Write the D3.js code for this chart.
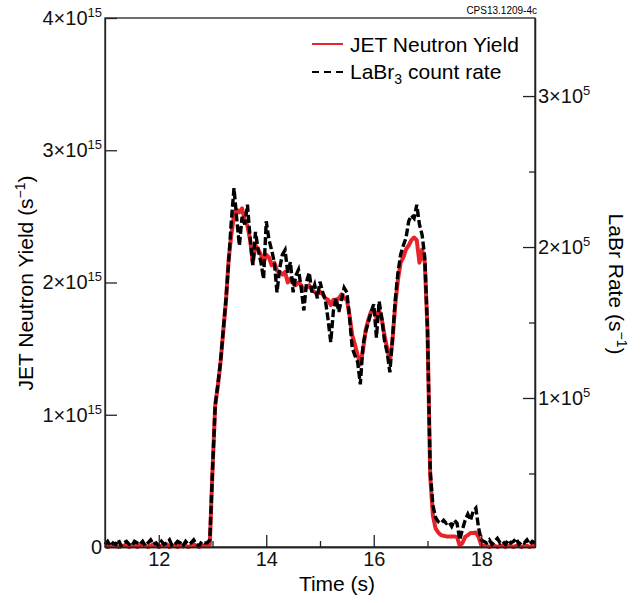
<!DOCTYPE html>
<meta charset="utf-8">
<style>

    body { margin: 0; background: #fff; }

    svg { font-family: "Liberation Sans", Arial, sans-serif; }

    .axis path, .axis line {
        stroke: #222;
        stroke-width: 1.3;
    }

    .axis text {
        font-family: "Liberation Sans", Arial, sans-serif;
        font-size: 20px;
        fill: #111;
    }

</style>
<svg width="641" height="603"></svg>
<script src="https://cdn.jsdelivr.net/npm/d3@7/dist/d3.min.js"></script>
<script>

    // sampling of both traces: every 0.05 s starting at 11 s
    var timeStart = 11, timeStep = 0.05;

    // JET neutron yield, units of 1e15 s^-1
    var neutronYield = [
        0.01, 0.00, 0.01, 0.02, 0.01, 0.00, 0.01, 0.01, 0.02, 0.00,
        0.01, 0.01, 0.00, 0.02, 0.01, 0.01, 0.00, 0.01, 0.02, 0.01,
        0.00, 0.01, 0.01, 0.02, 0.00, 0.01, 0.01, 0.00, 0.02, 0.01,
        0.01, 0.00, 0.01, 0.02, 0.01, 0.00, 0.01, 0.01, 0.01, 0.02,
        0.58, 1.07, 1.22, 1.40, 1.63, 1.86, 2.17, 2.36, 2.51, 2.55,
        2.53, 2.56, 2.47, 2.43, 2.32, 2.15, 2.28, 2.25, 2.21, 2.15,
        2.21, 2.19, 2.13, 2.15, 2.09, 2.08, 2.06, 2.08, 2.00, 2.03,
        2.00, 1.98, 2.00, 1.98, 1.94, 1.96, 1.98, 1.94, 1.93, 1.91,
        1.93, 1.91, 1.88, 1.87, 1.83, 1.87, 1.87, 1.88, 1.91, 1.88,
        1.87, 1.75, 1.60, 1.53, 1.45, 1.38, 1.49, 1.64, 1.72, 1.78,
        1.79, 1.73, 1.79, 1.72, 1.60, 1.50, 1.40, 1.57, 1.83, 2.02,
        2.15, 2.19, 2.25, 2.28, 2.32, 2.34, 2.32, 2.15, 2.25, 2.15,
        1.64, 0.54, 0.24, 0.14, 0.11, 0.09, 0.085, 0.08, 0.08, 0.08,
        0.08, 0.075, 0.01, 0.03, 0.076, 0.09, 0.106, 0.106, 0.11, 0.076,
        0.015, 0.01, 0.01, 0.00, 0.01, 0.01, 0.00, 0.01, 0.01, 0.00,
        0.01, 0.01, 0.00, 0.01, 0.01, 0.00, 0.01, 0.01, 0.00, 0.01,
        0.01
    ];

    // LaBr3 count rate, units of 1e5 s^-1
    var labrRate = [
        0.03, 0.05, 0.02, 0.04, 0.03, 0.06, 0.02, 0.04, 0.05, 0.03,
        0.02, 0.05, 0.04, 0.03, 0.05, 0.02, 0.04, 0.06, 0.03, 0.04,
        0.02, 0.05, 0.03, 0.04, 0.06, 0.02, 0.03, 0.05, 0.04, 0.02,
        0.05, 0.03, 0.04, 0.06, 0.03, 0.02, 0.05, 0.04, 0.04, 0.06,
        0.52, 0.95, 1.09, 1.24, 1.45, 1.65, 1.90, 2.17, 2.39, 2.19,
        2.01, 2.20, 2.15, 2.28, 2.06, 1.88, 2.10, 1.98, 1.90, 1.79,
        2.17, 2.05, 1.98, 1.90, 1.70, 1.86, 1.95, 1.98, 1.83, 1.90,
        1.70, 1.81, 1.85, 1.73, 1.58, 1.77, 1.83, 1.70, 1.75, 1.66,
        1.77, 1.70, 1.65, 1.52, 1.37, 1.58, 1.66, 1.57, 1.65, 1.73,
        1.70, 1.53, 1.33, 1.28, 1.24, 1.09, 1.35, 1.44, 1.50, 1.57,
        1.62, 1.40, 1.64, 1.53, 1.38, 1.30, 1.17, 1.40, 1.65, 1.83,
        1.95, 2.01, 2.06, 2.17, 2.21, 2.19, 2.28, 2.15, 2.08, 1.93,
        1.45, 0.52, 0.29, 0.21, 0.18, 0.17, 0.19, 0.17, 0.18, 0.15,
        0.19, 0.17, 0.06, 0.13, 0.19, 0.23, 0.19, 0.25, 0.27, 0.14,
        0.06, 0.05, 0.04, 0.06, 0.03, 0.05, 0.07, 0.04, 0.05, 0.03,
        0.06, 0.04, 0.05, 0.07, 0.03, 0.05, 0.04, 0.06, 0.03, 0.05,
        0.04
    ];

    var timeTicks = [12, 14, 16, 18],
        timeMinor = [13, 15, 17],
        yieldTicks = [0, 1, 2, 3, 4],
        rateTicks = [1, 2, 3],
        rateMinor = [0.5, 1.5, 2.5];

    var svg = d3.select("svg"),
        margin = {top: 18, right: 106, bottom: 56, left: 105},
        width = +svg.attr("width") - margin.left - margin.right,
        height = +svg.attr("height") - margin.top - margin.bottom;

    var g = svg.append("g")
        .attr("transform", "translate(" + margin.left + "," + margin.top + ")");

    var x = d3.scaleLinear().domain([11, 19]).range([0, width]),
        yLeft = d3.scaleLinear().domain([0, 4]).range([height, 0]),
        yRight = d3.scaleLinear().domain([0.013, 3.517]).range([height, 0]);

    var times = neutronYield.map(function(d, i) { return timeStart + i * timeStep; });

    // labels like 3x10^15 with a raised exponent
    function sciLabels(exp) {
        return function(sel) {
            sel.selectAll(".tick text").each(function(d) {
                var t = d3.select(this).text(null);
                if (d === 0) { t.text("0"); return; }
                t.append("tspan").text(d + "\u00d710");
                t.append("tspan").attr("dy", -8).style("font-size", "13px").text(exp);
            });
        };
    }

    // frame
    g.append("rect")
        .attr("width", width)
        .attr("height", height)
        .attr("fill", "none")
        .attr("stroke", "#222")
        .attr("stroke-width", 1.3);

    // traces
    var redLine = d3.line()
        .x(function(d, i) { return x(times[i]); })
        .y(function(d) { return yLeft(d); });

    var blackLine = d3.line()
        .x(function(d, i) { return x(times[i]); })
        .y(function(d) { return yRight(d); });

    g.append("path")
        .datum(neutronYield)
        .attr("fill", "none")
        .attr("stroke", "#e8232a")
        .attr("stroke-width", 4)
        .attr("stroke-linejoin", "round")
        .attr("d", redLine);

    g.append("path")
        .datum(labrRate)
        .attr("fill", "none")
        .attr("stroke", "#000")
        .attr("stroke-width", 3.4)
        .attr("stroke-dasharray", "8,3")
        .attr("d", blackLine);

    // axes
    g.append("g")
        .attr("class", "axis axis--x")
        .attr("transform", "translate(0," + height + ")")
        .call(d3.axisBottom(x).tickValues(timeTicks).tickSizeInner(-12).tickSizeOuter(0).tickPadding(5)
            .tickFormat(d3.format("d")));

    g.append("g")
        .attr("class", "axis axis--x")
        .attr("transform", "translate(0," + height + ")")
        .call(d3.axisBottom(x).tickValues(timeMinor).tickSizeInner(-6).tickSizeOuter(0).tickFormat(""));

    g.append("g")
        .attr("class", "axis axis--y")
        .call(d3.axisLeft(yLeft).tickValues(yieldTicks).tickSizeInner(-12).tickSizeOuter(0).tickPadding(3))
        .call(sciLabels("15"));

    g.append("g")
        .attr("class", "axis axis--r")
        .attr("transform", "translate(" + width + ",0)")
        .call(d3.axisRight(yRight).tickValues(rateTicks).tickSizeInner(-12).tickSizeOuter(0).tickPadding(3))
        .call(sciLabels("5"));

    g.append("g")
        .attr("class", "axis axis--r")
        .attr("transform", "translate(" + width + ",0)")
        .call(d3.axisRight(yRight).tickValues(rateMinor).tickSizeInner(-6).tickSizeOuter(0).tickFormat(""));

    // axis titles
    svg.append("text")
        .attr("x", 337)
        .attr("y", 591)
        .attr("text-anchor", "middle")
        .style("font-size", "21px")
        .text("Time (s)");

    var leftTitle = svg.append("text")
        .attr("transform", "translate(33,283) rotate(-90)")
        .attr("text-anchor", "middle")
        .style("font-size", "21px");
    leftTitle.append("tspan").text("JET Neutron Yield (s");
    leftTitle.append("tspan").attr("dy", -8).style("font-size", "14px").text("\u22121");
    leftTitle.append("tspan").attr("dy", 8).text(")");

    var rightTitle = svg.append("text")
        .attr("transform", "translate(609,284) rotate(90)")
        .attr("text-anchor", "middle")
        .style("font-size", "21px");
    rightTitle.append("tspan").text("LaBr Rate (s");
    rightTitle.append("tspan").attr("dy", -8).style("font-size", "14px").text("\u22121");
    rightTitle.append("tspan").attr("dy", 8).text(")");

    svg.append("text")
        .attr("x", 537)
        .attr("y", 14)
        .attr("text-anchor", "end")
        .style("font-size", "10px")
        .text("CPS13.1209-4c");

    // legend
    var legend = svg.append("g").attr("transform", "translate(312,0)");

    legend.append("line")
        .attr("x1", 0).attr("x2", 31)
        .attr("y1", 44).attr("y2", 44)
        .attr("stroke", "#e8232a")
        .attr("stroke-width", 2);

    legend.append("text")
        .attr("x", 38).attr("y", 52)
        .style("font-size", "21px")
        .text("JET Neutron Yield");

    legend.append("line")
        .attr("x1", 0).attr("x2", 31)
        .attr("y1", 72).attr("y2", 72)
        .attr("stroke", "#000")
        .attr("stroke-width", 2)
        .attr("stroke-dasharray", "7,5");

    var lab = legend.append("text")
        .attr("x", 38).attr("y", 79)
        .style("font-size", "21px");
    lab.append("tspan").text("LaBr");
    lab.append("tspan").attr("dy", 5).style("font-size", "14px").text("3");
    lab.append("tspan").attr("dy", -5).text(" count rate");

</script>
